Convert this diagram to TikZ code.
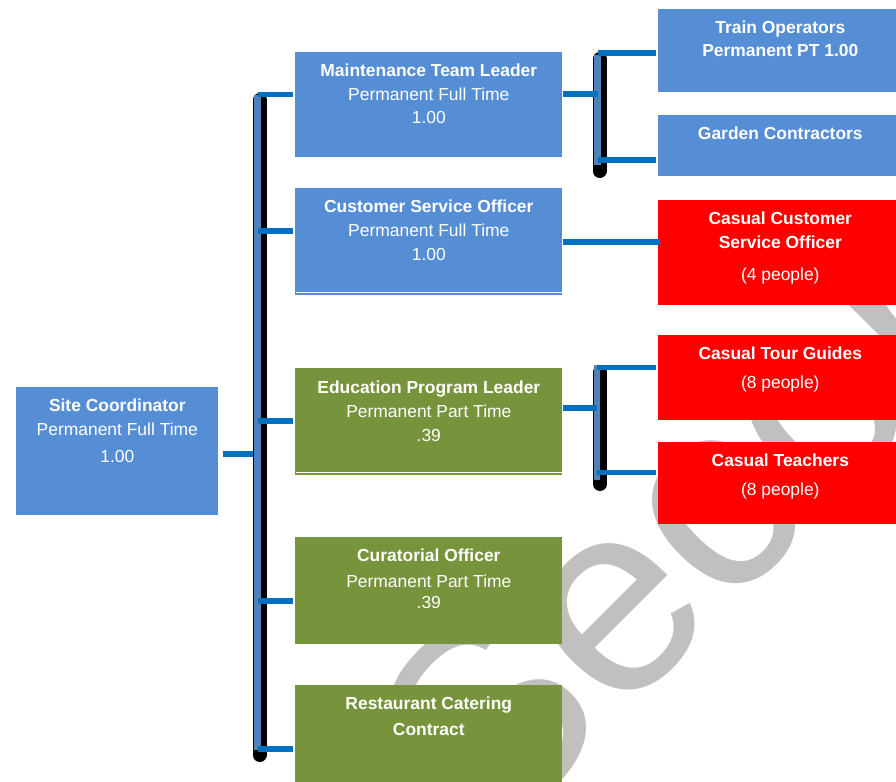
\documentclass[tikz,border=0pt]{standalone}
\usepackage{fontspec}
\setmainfont{Liberation Sans}
\usepackage{xcolor}
\usepackage{tikz}
\usetikzlibrary{positioning}

\definecolor{boxblue}{RGB}{85,142,213}
\definecolor{boxgreen}{RGB}{119,147,60}
\definecolor{boxred}{RGB}{255,0,0}
\definecolor{linkblue}{RGB}{0,112,192}
\definecolor{barblue}{RGB}{79,129,189}
\definecolor{markgray}{RGB}{192,192,192}

\tikzset{
  post/.style={anchor=north west, inner sep=0pt, draw=none},
  mid post/.style={post, minimum width=6.675cm, minimum height=2.675cm},
  side post/.style={post, minimum width=6.1cm},
  post text/.style={text=white, align=center, inner sep=0pt, font=\fontsize{12.4}{17}\selectfont},
  link/.style={draw=linkblue, line width=0.14cm},
  bar/.style={draw=barblue, line width=0.16cm},
  bar shadow/.style={draw=black, line width=0.35cm, line cap=round},
}

\begin{document}
\begin{tikzpicture}[x=0.025cm, y=-0.025cm]
        \clip (0,0) rectangle (896,782);

        % watermark behind everything
        \node[anchor=base west, inner sep=0pt, rotate=45, text=markgray, font=\fontsize{194}{200}\selectfont] (watermark) at (487.8,850.6) {Second};

        % left
        \node[post, fill=boxblue, minimum width=5.05cm, minimum height=3.2cm] (site) at (16,387) {};
        \node[post text, below=0.3cm of site.north] (site-t) {\textbf{Site Coordinator}\\Permanent Full Time\\[2pt]1.00};

        % middle column
        \node[mid post, fill=boxblue, minimum height=2.625cm] (mtl) at (295,52) {};
        \node[mid post, fill=boxblue] (cso) at (295,188) {};
        \node[mid post, fill=boxgreen] (epl) at (295,368) {};
        \node[mid post, fill=boxgreen] (cur) at (295,537) {};
        \node[mid post, fill=boxgreen] (rest) at (295,685) {};

        \node[post text, below=0.28cm of mtl.north] (mtl-t) {\textbf{Maintenance Team Leader}\\Permanent Full Time\\1.00};
        \node[post text, below=0.3cm of cso.north] (cso-t) {\textbf{Customer Service Officer}\\Permanent Full Time\\1.00};
        \node[post text, below=0.325cm of epl.north] (epl-t) {\textbf{Education Program Leader}\\Permanent Part Time\\.39};
        \node[post text, below=0.3cm of cur.north] (cur-t) {\textbf{Curatorial Officer}\\[1pt]Permanent Part Time\\[-2pt].39};
        \node[post text, below=0.3cm of rest.north] (rest-t) {\textbf{Restaurant Catering}\\[1pt]\textbf{Contract}};

        % right column
        \node[side post, fill=boxblue, minimum height=2.075cm] (train) at (658,9) {};
        \node[side post, fill=boxblue, minimum height=1.525cm] (garden) at (658,115) {};
        \node[side post, fill=boxred, minimum height=2.625cm] (ccso) at (658,200) {};
        \node[side post, fill=boxred, minimum height=2.125cm] (tour) at (658,335) {};
        \node[side post, fill=boxred, minimum height=2.05cm] (teach) at (658,442) {};

        \node[post text, below=0.3cm of train.north] (train-t) {\textbf{Train Operators}\\[-1pt]\textbf{Permanent PT 1.00}};
        \node[post text, below=0.28cm of garden.north] (garden-t) {\textbf{Garden Contractors}};
        \node[post text, below=0.28cm of ccso.north] (ccso-t) {\textbf{Casual Customer}\\\textbf{Service Officer}\\[6pt](4 people)};
        \node[post text, below=0.28cm of tour.north] (tour-t) {\textbf{Casual Tour Guides}\\[4pt](8 people)};
        \node[post text, below=0.28cm of teach.north] (teach-t) {\textbf{Casual Teachers}\\[4pt](8 people)};

        % thin lines at the foot of two boxes
        \draw[white, line width=0.7pt] ([shift={(1,-3)}]cso.south west) -- ([shift={(-1,-3)}]cso.south east);
        \draw[white, line width=0.7pt] ([shift={(1,-3)}]epl.south west) -- ([shift={(-1,-3)}]epl.south east);

        % bars
        \coordinate (bus top) at (257.5,95);
        \coordinate (bus bottom) at (257.5,750);
        \coordinate (b2 top) at (597.5,55);
        \coordinate (b2 bottom) at (597.5,165);
        \coordinate (b3 top) at (597,365);
        \coordinate (b3 bottom) at (597,480);

        \draw[bar shadow] ([shift={(2,5)}]bus top) -- ([shift={(2,5)}]bus bottom);
        \draw[bar shadow] ([shift={(2,4)}]b2 top) -- ([shift={(2,6)}]b2 bottom);
        \draw[bar shadow] ([shift={(3,7)}]b3 top) -- ([shift={(3,4)}]b3 bottom);
        \draw[bar] (bus top) -- (bus bottom);
        \draw[bar] (b2 top) -- (b2 bottom);
        \draw[bar] (b3 top) -- (b3 bottom);

        % joints
        \coordinate (j-site) at (257.5,454);
        \coordinate (j-mtl) at (257.5,94.5);
        \coordinate (j-cso) at (257.5,231);
        \coordinate (j-epl) at (257.5,421);
        \coordinate (j-cur) at (257.5,601);
        \coordinate (j-rest) at (257.5,749);
        \coordinate (j-mtl-r) at (597.5,94);
        \coordinate (j-train) at (597.5,53);
        \coordinate (j-garden) at (597.5,160);
        \coordinate (j-ccso) at (597.5,242);
        \coordinate (j-epl-r) at (597,408);
        \coordinate (j-tour) at (597,367.5);
        \coordinate (j-teach) at (597,472.5);

        \path[link, shorten >=0.05cm]
        ([xshift=0.1cm]site.east |- j-site) edge ([xshift=-0.06cm]j-site)
        (j-mtl) edge (j-mtl -| mtl.west)
        (j-cso) edge (j-cso -| cso.west)
        (j-epl) edge (j-epl -| epl.west)
        (j-cur) edge (j-cur -| cur.west)
        (j-rest) edge (j-rest -| rest.west)
        (j-train) edge (j-train -| train.west)
        (j-garden) edge (j-garden -| garden.west)
        (j-tour) edge (j-tour -| tour.west)
        (j-teach) edge (j-teach -| teach.west)
        (j-ccso -| cso.east) edge ([xshift=0.1cm]j-ccso -| ccso.west)
        (j-mtl-r -| mtl.east) edge ([xshift=0.05cm]j-mtl-r)
        (j-epl-r -| epl.east) edge ([xshift=0.05cm]j-epl-r);
\end{tikzpicture}
\end{document}
